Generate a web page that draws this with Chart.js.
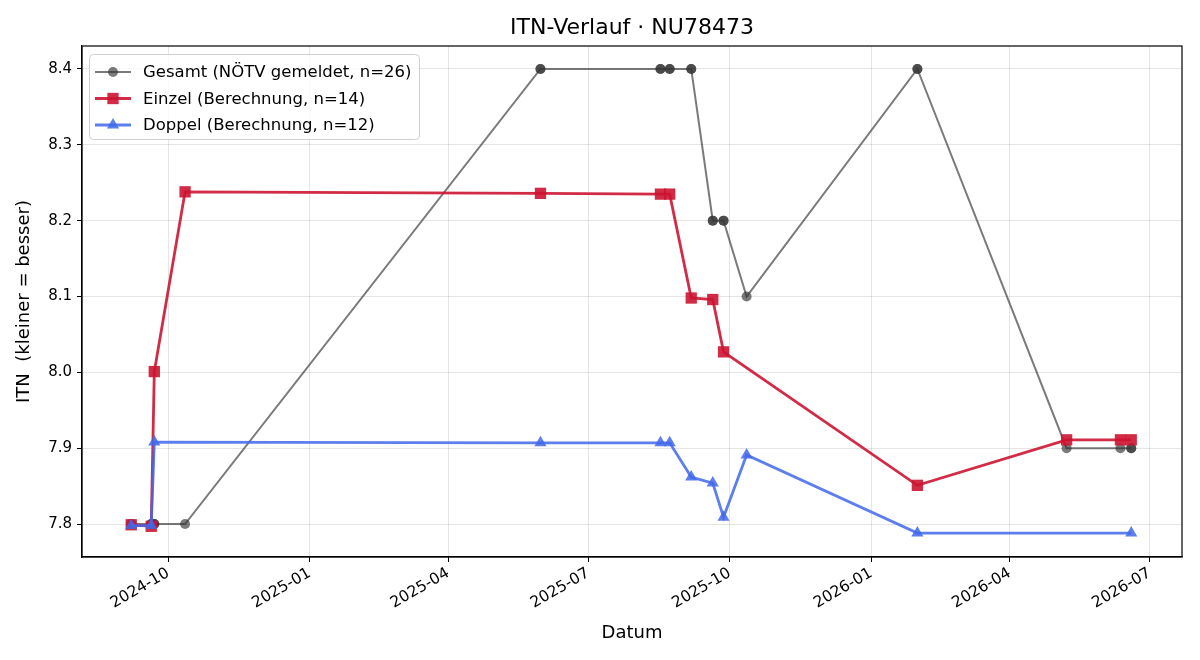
<!DOCTYPE html>
<html>
<head>
<meta charset="utf-8">
<script src="https://cdn.jsdelivr.net/npm/chart.js@4.4.1/dist/chart.umd.min.js"></script>
<style>
  html, body { margin: 0; padding: 0; background: #fff; }
</style>
</head>
<body>
<canvas id="itnChart" width="1200" height="660"></canvas>
<script>
const gesamtDates = [
  '2024-09-07', '2024-09-07', '2024-09-20', '2024-09-20', '2024-09-22', '2024-09-22',
  '2024-10-12', '2025-05-31', '2025-05-31', '2025-08-17', '2025-08-17', '2025-08-23',
  '2025-08-23', '2025-09-06', '2025-09-06', '2025-09-20', '2025-09-20', '2025-09-27',
  '2025-09-27', '2025-10-12', '2026-01-31', '2026-01-31', '2026-05-08', '2026-06-12',
  '2026-06-19', '2026-06-19'
];
const gesamtValues = [
  7.8, 7.8, 7.8, 7.8, 7.8, 7.8,
  7.8, 8.4, 8.4, 8.4, 8.4, 8.4,
  8.4, 8.4, 8.4, 8.2, 8.2, 8.2,
  8.2, 8.1, 8.4, 8.4, 7.9, 7.9,
  7.9, 7.9
];

const einzelDates = [
  '2024-09-07', '2024-09-20', '2024-09-22', '2024-10-12', '2025-05-31', '2025-08-17', '2025-08-23',
  '2025-09-06', '2025-09-20', '2025-09-27', '2026-01-31', '2026-05-08', '2026-06-12', '2026-06-19'
];
const einzelValues = [7.799, 7.797, 8.001, 8.238, 8.236, 8.235, 8.235, 8.098, 8.096, 8.027, 7.851, 7.911, 7.911, 7.911];

const doppelDates = [
  '2024-09-07', '2024-09-20', '2024-09-22', '2025-05-31', '2025-08-17', '2025-08-23',
  '2025-09-06', '2025-09-20', '2025-09-27', '2025-10-12', '2026-01-31', '2026-06-19'
];
const doppelValues = [7.798, 7.798, 7.908, 7.907, 7.907, 7.907, 7.862, 7.854, 7.809, 7.891, 7.788, 7.788];

const xTickMonths = ['2024-10', '2025-01', '2025-04', '2025-07', '2025-10', '2026-01', '2026-04', '2026-07'];
const yTickValues = [7.8, 7.9, 8.0, 8.1, 8.2, 8.3, 8.4];

const FONT = "'DejaVu Sans', sans-serif";

function toMs(s) {
  const p = s.split('-').map(Number);
  return Date.UTC(p[0], p[1] - 1, p[2] || 1);
}
function points(dates, values) {
  return dates.map((d, i) => ({ x: toMs(d), y: values[i] }));
}

const grayCol = 'rgba(51,51,51,0.65)';
const redCol = 'rgba(204,20,50,0.9)';
const blueCol = 'rgba(65,105,235,0.85)';

// Rahmen um die Achsenfläche
const frame = {
  id: 'frame',
  afterDraw(chart) {
    const a = chart.chartArea, ctx = chart.ctx;
    ctx.save();
    ctx.strokeStyle = '#000';
    ctx.lineWidth = 1.2;
    ctx.strokeRect(a.left, a.top, a.right - a.left, a.bottom - a.top);
    ctx.restore();
  }
};

// Titel über der Achsenfläche zentriert
const axTitle = {
  id: 'axTitle',
  afterDraw(chart) {
    const a = chart.chartArea, ctx = chart.ctx;
    ctx.save();
    ctx.fillStyle = '#000';
    ctx.font = '22px ' + FONT;
    ctx.textAlign = 'center';
    ctx.textBaseline = 'middle';
    ctx.fillText('ITN-Verlauf · NU78473', (a.left + a.right) / 2, 28);
    ctx.restore();
  }
};

function marker(ctx, style, x, y, r) {
  ctx.beginPath();
  if (style === 'circle') {
    ctx.arc(x, y, r, 0, Math.PI * 2);
  } else if (style === 'rect') {
    const s = r / Math.SQRT2;
    ctx.rect(x - s, y - s, 2 * s, 2 * s);
  } else {
    ctx.moveTo(x, y - r);
    ctx.lineTo(x + r * Math.sin(2 * Math.PI / 3), y - r * Math.cos(2 * Math.PI / 3));
    ctx.lineTo(x + r * Math.sin(4 * Math.PI / 3), y - r * Math.cos(4 * Math.PI / 3));
    ctx.closePath();
  }
  ctx.fill();
}

// Legende innen oben links, wie im Original
const innerLegend = {
  id: 'innerLegend',
  afterDatasetsDraw(chart) {
    const a = chart.chartArea, ctx = chart.ctx;
    const x0 = a.left + 7, y0 = a.top + 8;
    ctx.save();
    ctx.beginPath();
    ctx.roundRect(x0 + 0.5, y0 + 0.5, 330, 85, 4);
    ctx.fillStyle = 'rgba(255,255,255,0.8)';
    ctx.fill();
    ctx.strokeStyle = '#d0d0d0';
    ctx.lineWidth = 1;
    ctx.stroke();
    chart.data.datasets.forEach((ds, i) => {
      const cy = y0 + 18 + i * 26.5;
      const lx = x0 + 6;
      ctx.strokeStyle = ds.borderColor;
      ctx.lineWidth = ds.borderWidth;
      ctx.beginPath();
      ctx.moveTo(lx, cy);
      ctx.lineTo(lx + 36, cy);
      ctx.stroke();
      ctx.fillStyle = ds.pointBackgroundColor;
      marker(ctx, ds.pointStyle, lx + 18, cy, ds.pointRadius);
      ctx.fillStyle = '#000';
      ctx.font = '16.5px ' + FONT;
      ctx.textAlign = 'left';
      ctx.textBaseline = 'middle';
      ctx.fillText(ds.label, x0 + 54, cy + 1);
    });
    ctx.restore();
  }
};

new Chart(document.getElementById('itnChart').getContext('2d'), {
  type: 'line',
  data: {
    datasets: [
      {
        label: 'Gesamt (NÖTV gemeldet, n=26)',
        data: points(gesamtDates, gesamtValues),
        borderColor: grayCol,
        backgroundColor: grayCol,
        pointBackgroundColor: grayCol,
        pointBorderWidth: 0,
        borderWidth: 2,
        pointStyle: 'circle',
        pointRadius: 5,
        tension: 0,
        order: 3
      },
      {
        label: 'Einzel (Berechnung, n=14)',
        data: points(einzelDates, einzelValues),
        borderColor: redCol,
        backgroundColor: redCol,
        pointBackgroundColor: redCol,
        pointBorderWidth: 0,
        borderWidth: 2.8,
        pointStyle: 'rect',
        pointRadius: 8,
        tension: 0,
        order: 2
      },
      {
        label: 'Doppel (Berechnung, n=12)',
        data: points(doppelDates, doppelValues),
        borderColor: blueCol,
        backgroundColor: blueCol,
        pointBackgroundColor: blueCol,
        pointBorderWidth: 0,
        borderWidth: 2.8,
        pointStyle: 'triangle',
        pointRadius: 7,
        tension: 0,
        order: 1
      }
    ]
  },
  options: {
    responsive: false,
    animation: false,
    layout: { padding: { top: 46, right: 18, left: 0, bottom: 0 } },
    plugins: {
      legend: { display: false },
      title: { display: false },
      tooltip: { enabled: false }
    },
    scales: {
      x: {
        type: 'linear',
        min: toMs('2024-08-06'),
        max: toMs('2026-07-22'),
        afterBuildTicks: (scale) => {
          scale.ticks = xTickMonths.map(m => ({ value: toMs(m + '-01') }));
        },
        afterFit: (scale) => { scale.height = 103; },
        ticks: {
          callback: (v, i) => xTickMonths[i],
          minRotation: 30,
          maxRotation: 30,
          padding: 2,
          color: '#000',
          font: { family: FONT, size: 15.5 }
        },
        grid: { color: 'rgba(0,0,0,0.1)', tickColor: '#000', tickLength: 5 },
        border: { color: '#000', width: 1.2 },
        title: {
          display: true,
          text: 'Datum',
          color: '#000',
          font: { family: FONT, size: 18 },
          padding: { top: 0, bottom: 16 }
        }
      },
      y: {
        type: 'linear',
        min: 7.7565,
        max: 8.4303,
        afterBuildTicks: (scale) => {
          scale.ticks = yTickValues.map(v => ({ value: v }));
        },
        afterFit: (scale) => { scale.width = 82; },
        ticks: {
          callback: (v) => Number(v).toFixed(1),
          padding: 5,
          color: '#000',
          font: { family: FONT, size: 15 }
        },
        grid: { color: 'rgba(0,0,0,0.1)', tickColor: '#000', tickLength: 5 },
        border: { color: '#000', width: 1.2 },
        title: {
          display: true,
          text: 'ITN  (kleiner = besser)',
          color: '#000',
          font: { family: FONT, size: 18 },
          padding: { top: 14, bottom: 0 }
        }
      }
    }
  },
  plugins: [frame, axTitle, innerLegend]
});
</script>
</body>
</html>
